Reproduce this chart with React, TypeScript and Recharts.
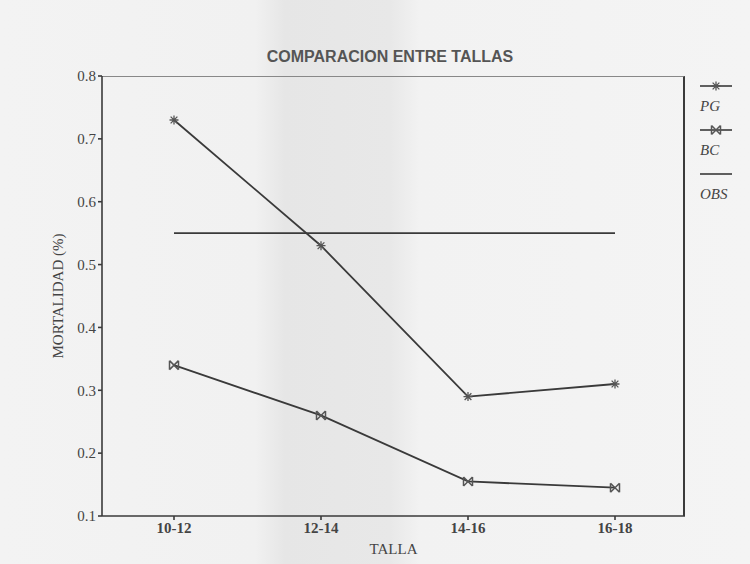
import React from 'react';
import { LineChart, Line, XAxis, YAxis } from 'recharts';

const tallas = ['10-12', '12-14', '14-16', '16-18'];
const pg = [0.73, 0.53, 0.29, 0.31];
const bc = [0.34, 0.26, 0.155, 0.145];
const obs = [0.55, 0.55, 0.55, 0.55];
const yTicks = [0.1, 0.2, 0.3, 0.4, 0.5, 0.6, 0.7, 0.8];

const data = tallas.map((t, i) => ({ talla: t, PG: pg[i], BC: bc[i], OBS: obs[i] }));

const ink = '#3a3a3a';
const serif = '"Liberation Serif", "DejaVu Serif", serif';

const StarDot = (props: any) => {
  const { cx, cy } = props;
  if (cx == null || cy == null) return null;
  const r = 4.5;
  const d = r * 0.75;
  return (
    <path
      d={`M${cx - r},${cy}L${cx + r},${cy}M${cx},${cy - r}L${cx},${cy + r}M${cx - d},${cy - d}L${cx + d},${cy + d}M${cx - d},${cy + d}L${cx + d},${cy - d}`}
      stroke="#555"
      strokeWidth={1.3}
      fill="none"
    />
  );
};

const BowDot = (props: any) => {
  const { cx, cy } = props;
  if (cx == null || cy == null) return null;
  const r = 4.5;
  return (
    <path
      d={`M${cx - r},${cy - r}L${cx - r},${cy + r}M${cx + r},${cy - r}L${cx + r},${cy + r}M${cx - r},${cy - r}L${cx + r},${cy + r}M${cx - r},${cy + r}L${cx + r},${cy - r}`}
      stroke="#555"
      strokeWidth={1.5}
      fill="none"
    />
  );
};

const LegendBox = () => {
  const item = (label: string, marker: 'star' | 'bow' | null) => (
    <div style={{ height: 44, position: 'relative' }}>
      <svg width={36} height={14} style={{ display: 'block' }}>
        <line x1={2} y1={7} x2={34} y2={7} stroke={ink} strokeWidth={1.6} />
        {marker === 'star' && <StarDot cx={18} cy={7} />}
        {marker === 'bow' && <BowDot cx={18} cy={7} />}
      </svg>
      <div style={{ fontFamily: serif, fontStyle: 'italic', fontSize: 15, color: '#444', marginTop: 5, marginLeft: 2 }}>
        {label}
      </div>
    </div>
  );
  return (
    <div style={{ position: 'absolute', left: 698, top: 79, width: 45 }}>
      {item('PG', 'star')}
      {item('BC', 'bow')}
      {item('OBS', null)}
    </div>
  );
};

export default function App() {
  return (
    <div
      style={{
        position: 'absolute',
        left: 0,
        top: 0,
        width: 750,
        height: 564,
        background:
          'linear-gradient(90deg, #f3f3f3 0%, #f1f1f1 34%, #e6e6e6 38%, #e8e8e8 52%, #f2f2f2 56%, #f4f4f4 100%)',
      }}
    >
      <div
        style={{
          position: 'absolute',
          left: 0,
          width: 780,
          top: 48,
          textAlign: 'center',
          fontFamily: 'Arial, "Liberation Sans", sans-serif',
          fontWeight: 'bold',
          fontSize: 16,
          color: '#555',
        }}
      >
        COMPARACION ENTRE TALLAS
      </div>
      {/* frame: top and right edges of the plot box */}
      <div
        style={{
          position: 'absolute',
          left: 102,
          top: 76,
          width: 583,
          height: 440,
          boxSizing: 'border-box',
          borderTop: '1px solid #888',
          borderRight: '2px solid #3a3a3a',
        }}
      />
      <LegendBox />
      <div style={{ position: 'absolute', left: 0, top: 0 }}>
        <LineChart width={750} height={564} data={data} margin={{ top: 76, right: 65, bottom: 8, left: 40 }}>
          <XAxis
            dataKey="talla"
            padding={{ left: 72, right: 70 }}
            height={40}
            stroke={ink}
            strokeWidth={1.6}
            tickSize={4}
            tick={{ fill: '#444', fontSize: 15, fontFamily: serif, fontWeight: 'bold' }}
            label={{ value: 'TALLA', position: 'insideBottom', offset: 2, fill: '#444', fontSize: 15, fontFamily: serif }}
          />
          <YAxis
            domain={[0.1, 0.8]}
            ticks={yTicks}
            width={62}
            stroke={ink}
            strokeWidth={1.6}
            tickSize={4}
            tickFormatter={(v: number) => v.toFixed(1)}
            tick={{ fill: '#444', fontSize: 15, fontFamily: serif }}
            label={{
              value: 'MORTALIDAD (%)',
              angle: -90,
              position: 'insideLeft',
              offset: 18,
              style: { textAnchor: 'middle' },
              fill: '#444',
              fontSize: 15,
              fontFamily: serif,
            }}
          />
          <Line dataKey="PG" stroke={ink} strokeWidth={1.8} dot={<StarDot />} isAnimationActive={false} />
          <Line dataKey="BC" stroke={ink} strokeWidth={1.8} dot={<BowDot />} isAnimationActive={false} />
          <Line dataKey="OBS" stroke={ink} strokeWidth={1.8} dot={false} isAnimationActive={false} />
        </LineChart>
      </div>
    </div>
  );
}
